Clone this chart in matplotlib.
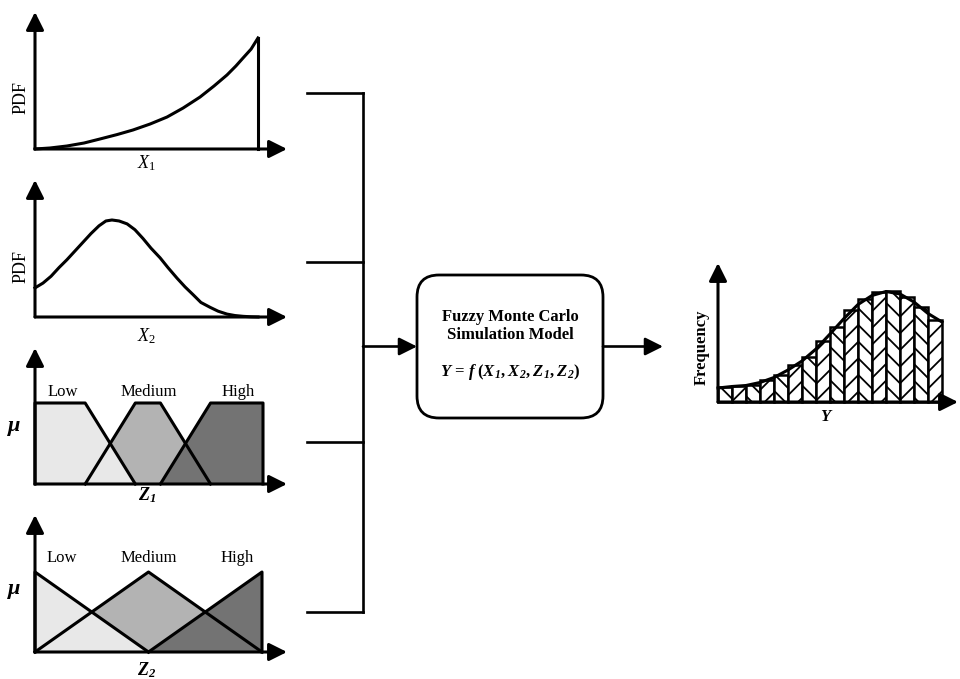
import numpy as np
import matplotlib
matplotlib.use('Agg')
import matplotlib.pyplot as plt
from matplotlib.patches import FancyBboxPatch

plt.rcParams.update({'font.family': 'Liberation Serif',
                     'mathtext.fontset': 'custom',
                     'mathtext.rm': 'Liberation Serif',
                     'mathtext.it': 'Liberation Serif:italic',
                     'mathtext.bf': 'Liberation Serif:bold',
                     'mathtext.bfit': 'Liberation Serif:italic:bold',
                     'hatch.linewidth': 1.3})

# --- data ---
# X1 : rising pdf, truncated at the right end
x1_pos = [0, .067, .143, .22, .291, .368, .439, .516, .592, .664, .74, .803, .861, .901, .933, .969, 1.0]
x1_pdf = [0, .009, .027, .054, .09, .13, .171, .225, .288, .369, .468, .568, .667, .748, .82, .9, 1.0]

# X2 : skewed bell shaped pdf
x2_pos = [0, .036, .072, .108, .143, .179, .215, .251, .287, .318, .345, .377, .413, .448, .484,
          .52, .561, .596, .637, .673, .709, .744, .785, .821, .861, .897, .933, .969, 1.0]
x2_pdf = [.30, .35, .42, .51, .59, .68, .77, .86, .94, .99, 1.0, .99, .96, .90, .81,
          .71, .61, .51, .40, .31, .23, .15, .10, .06, .03, .015, .007, .002, 0]

# Z1 : trapezoidal membership functions
z1_low_x, z1_low_mu = [0, 0, 2.2, 4.4], [0, 1, 1, 0]
z1_med_x, z1_med_mu = [2.2, 4.4, 5.5, 7.7], [0, 1, 1, 0]
z1_high_x, z1_high_mu = [5.5, 7.7, 10, 10], [0, 1, 1, 0]

# Z2 : triangular membership functions
z2_low_x, z2_low_mu = [0, 0, 5], [0, 1, 0]
z2_med_x, z2_med_mu = [0, 5, 10], [0, 1, 0]
z2_high_x, z2_high_mu = [5, 10, 10], [0, 1, 0]

levels = ['Low', 'Medium', 'High']
level_x = [1.2, 5.0, 8.9]

# Y : output histogram + fitted curve
y_freq = [15, 16, 17, 22, 27, 37, 45, 61, 75, 92, 103, 110, 111, 105, 95, 82]
y_curve = [14, 15.5, 16.5, 19.5, 24.5, 32, 41, 53, 68, 83.5, 97.5, 106.5, 110.5, 108, 100, 88.5, 80]

# --- layout (pixels) ---
W, H = 960, 679
fig = plt.figure(figsize=(W/100, H/100), dpi=100)

gray_low, gray_med, gray_high = '#e8e8e8', '#b3b3b3', '#737373'
LW = 2.2
arrow_kw = dict(arrowstyle='-|>,head_length=0.6,head_width=0.3', mutation_scale=18,
                lw=LW, color='k', shrinkA=0, shrinkB=0)


def panel(ox, oy, tipx, tipy, sx, sy):
    ax = fig.add_axes([ox/W, 1 - oy/H, (tipx - ox)/W, (oy - tipy)/H])
    ax.set_xlim(0, (tipx - ox)/sx)
    ax.set_ylim(0, (oy - tipy)/sy)
    ax.axis('off')
    ax.annotate('', xy=(1, 0), xytext=(0, 0), xycoords='axes fraction', arrowprops=arrow_kw)
    ax.annotate('', xy=(0, 1), xytext=(0, 0), xycoords='axes fraction', arrowprops=arrow_kw)
    return ax


def ftext(px, py, s, **kw):
    fig.text(px/W, 1 - py/H, s, ha='center', va='center', **kw)


# panel 1 - X1
ax1 = panel(35, 149, 287, 12, 223, 111)
ax1.plot(x1_pos, x1_pdf, color='k', lw=LW, clip_on=False, solid_joinstyle='round')
ax1.plot([x1_pos[-1], x1_pos[-1]], [0, x1_pdf[-1]], color='k', lw=LW, clip_on=False)
ftext(21, 97, 'PDF', fontsize=13, rotation=90)
ftext(147, 163, r'$X_\mathit{1}$', fontsize=13)

# panel 2 - X2
ax2 = panel(35, 317, 287, 180, 223, 97)
ax2.plot(x2_pos, x2_pdf, color='k', lw=LW, clip_on=False, solid_joinstyle='round')
ftext(21, 267, 'PDF', fontsize=13, rotation=90)
ftext(147, 336, r'$X_\mathit{2}$', fontsize=13)

# panel 3 - Z1
ax3 = panel(35, 484, 287, 348, 22.8, 81)
ax3.fill(z1_med_x, z1_med_mu, facecolor=gray_med, edgecolor='none', zorder=1)
ax3.fill(z1_low_x, z1_low_mu, facecolor=gray_low, edgecolor='none', zorder=2)
ax3.fill(z1_high_x, z1_high_mu, facecolor=gray_high, edgecolor='none', zorder=2)
for xs, ys in [(z1_low_x, z1_low_mu), (z1_med_x, z1_med_mu), (z1_high_x, z1_high_mu)]:
    ax3.plot(xs, ys, color='k', lw=LW, clip_on=False, zorder=5)
for lab, lx in zip(levels, level_x):
    ax3.text(lx, 1.14, lab, ha='center', va='center', fontsize=12)
ftext(14, 426, 'μ', fontsize=16, fontweight='bold', fontstyle='italic')
ftext(147, 495, r'$\mathbfit{Z}_\mathbfit{1}$', fontsize=13)

# panel 4 - Z2
ax4 = panel(35, 652, 287, 515, 22.7, 80)
ax4.fill(z2_med_x, z2_med_mu, facecolor=gray_med, edgecolor='none', zorder=1)
ax4.fill(z2_low_x, z2_low_mu, facecolor=gray_low, edgecolor='none', zorder=2)
ax4.fill(z2_high_x, z2_high_mu, facecolor=gray_high, edgecolor='none', zorder=2)
for xs, ys in [(z2_low_x, z2_low_mu), (z2_med_x, z2_med_mu), (z2_high_x, z2_high_mu)]:
    ax4.plot(xs, ys, color='k', lw=LW, clip_on=False, zorder=5)
for lab, lx in zip(levels, level_x):
    ax4.text(lx, 1.17, lab, ha='center', va='center', fontsize=12)
ftext(14, 589, 'μ', fontsize=16, fontweight='bold', fontstyle='italic')
ftext(147, 670, r'$\mathbfit{Z}_\mathbfit{2}$', fontsize=13)

# output histogram - Y
ax5 = panel(718, 402, 958, 263, 14, 1)
bars = ax5.bar(np.arange(len(y_freq)), y_freq, width=1, align='edge',
               facecolor='white', edgecolor='k', lw=1.8, clip_on=False)
for i, b in enumerate(bars):
    b.set_hatch('\\\\' if i % 2 == 0 else '//')
ax5.plot(np.arange(len(y_curve)), y_curve, color='k', lw=LW, clip_on=False, zorder=5,
         solid_joinstyle='round')
ftext(702, 347, 'Frequency', fontsize=12, fontweight='bold', rotation=90)
ftext(827, 417, r'$\mathbfit{Y}$', fontsize=12)

# connectors and model box
ax0 = fig.add_axes([0, 0, 1, 1], zorder=-1)
ax0.set_xlim(0, W)
ax0.set_ylim(H, 0)
ax0.axis('off')

hub_x, branch_x0 = 363, 307
branch_y = [93, 262, 442, 612]
for by in branch_y:
    ax0.plot([branch_x0, hub_x], [by, by], color='k', lw=1.9, solid_capstyle='projecting')
ax0.plot([hub_x, hub_x], [branch_y[0], branch_y[-1]], color='k', lw=1.9, solid_capstyle='projecting')

box_x, box_y, box_w, box_h = 417, 275, 186, 143
mid_y = box_y + box_h/2
ax0.annotate('', xy=(box_x, mid_y), xytext=(hub_x, mid_y), arrowprops=dict(arrow_kw, lw=1.9))
ax0.annotate('', xy=(663, mid_y), xytext=(box_x + box_w, mid_y), arrowprops=dict(arrow_kw, lw=1.9))
ax0.add_patch(FancyBboxPatch((box_x, box_y), box_w, box_h,
                             boxstyle='round,pad=0,rounding_size=22',
                             facecolor='white', edgecolor='k', lw=2.0))

cx = box_x + box_w/2
ax0.text(cx, 317, 'Fuzzy Monte Carlo', ha='center', va='center', fontsize=12, fontweight='bold')
ax0.text(cx, 335, 'Simulation Model', ha='center', va='center', fontsize=12, fontweight='bold')
ax0.text(cx, 372, r'$\mathbfit{Y}\mathbf{\,=\,}\mathbfit{f}\;\mathbf{(}\mathbfit{X}_\mathbfit{1}\mathbf{,}\;'
                  r'\mathbfit{X}_\mathbfit{2}\mathbf{,}\;\mathbfit{Z}_\mathbfit{1}\mathbf{,}\;'
                  r'\mathbfit{Z}_\mathbfit{2}\mathbf{)}$',
         ha='center', va='center', fontsize=12)

fig.savefig('out.png', dpi=100)
